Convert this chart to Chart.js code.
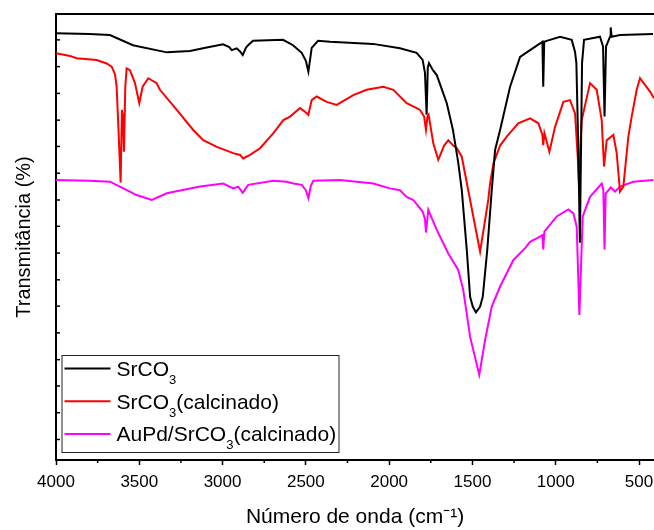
<!DOCTYPE html>
<html>
<head>
<meta charset="utf-8">
<script src="https://cdn.jsdelivr.net/npm/chart.js@4.4.0/dist/chart.umd.min.js"></script>
<style>
  html, body { margin: 0; padding: 0; background: #fff; }
  #wrap { width: 654px; height: 530px; overflow: hidden; }
</style>
</head>
<body>
<div id="wrap"><canvas id="chart" width="654" height="530"></canvas></div>
<script>
// FTIR spectra: [wavenumber (cm-1), transmittance (a.u.)]
const srco3 = [
    [4000,95.7],[3800,95.5],[3676,95.3],[3538,93.0],[3335,91.4],[3196,91.7],[3095,92.5],[2997,93.2],
    [2960,92.6],[2945,91.9],[2915,92.3],[2895,91.6],[2879,90.8],[2860,92.4],[2847,93.0],[2817,94.0],
    [2637,94.2],[2577,93.0],[2525,91.3],[2500,89.5],[2485,87.1],[2472,90.5],[2465,92.4],[2427,94.0],
    [2355,93.8],[2097,93.3],[1935,92.3],[1835,91.3],[1799,89.7],[1785,86.8],[1775,77.4],[1768,88.0],
    [1761,89.0],[1737,87.4],[1714,86.3],[1654,80.0],[1617,74.0],[1585,66.6],[1564,60.5],[1534,47.1],
    [1514,36.6],[1498,34.4],[1479,33.1],[1454,34.4],[1438,36.6],[1411,47.1],[1384,60.5],[1364,69.5],
    [1334,74.0],[1274,83.7],[1214,90.4],[1154,91.9],[1094,93.4],[1080,93.8],[1075,83.7],[1069,93.8],
    [974,94.9],[904,94.2],[884,91.5],[876,89.0],[864,69.0],[855,48.7],[848,70.0],[842,89.0],
    [830,94.2],[734,94.9],[716,92.7],[707,77.0],[698,92.7],[674,94.9],[670,97.0],[664,94.9],
    [614,95.3],[416,95.5]
];
const srco3Calc = [
    [4000,91.2],[3916,90.6],[3876,90.1],[3756,89.7],[3696,88.9],[3666,88.2],[3646,86.5],[3636,83.7],
    [3624,73.3],[3612,62.2],[3604,78.5],[3598,77.0],[3592,69.1],[3584,83.7],[3576,87.8],[3556,87.4],
    [3526,84.5],[3500,80.0],[3480,83.7],[3446,85.6],[3396,84.5],[3376,83.0],[3275,78.5],[3176,74.0],
    [3116,71.7],[3035,70.2],[2936,68.8],[2895,68.4],[2876,67.6],[2835,68.4],[2775,69.9],[2695,73.3],
    [2635,76.2],[2595,77.0],[2535,78.9],[2505,78.1],[2485,77.4],[2465,80.7],[2435,81.5],[2375,80.3],
    [2315,79.6],[2215,81.8],[2135,83.0],[2035,83.7],[1975,83.0],[1895,80.0],[1835,78.9],[1815,78.5],
    [1790,77.0],[1779,74.0],[1770,77.0],[1763,77.4],[1735,71.0],[1705,67.3],[1670,70.5],[1645,71.7],
    [1615,70.5],[1594,69.9],[1564,68.0],[1514,58.3],[1454,46.7],[1405,58.3],[1394,62.0],[1374,66.5],
    [1334,70.5],[1294,72.5],[1225,75.5],[1154,76.6],[1104,75.5],[1080,72.9],[1075,70.6],[1068,73.3],
    [1038,69.1],[1004,74.7],[954,80.3],[914,80.7],[884,77.7],[868,68.0],[860,61.2],[852,70.0],
    [844,76.2],[794,84.5],[754,83.0],[724,76.2],[710,65.8],[694,71.7],[654,72.9],[634,68.8],
    [614,60.2],[594,61.3],[564,72.5],[544,77.0],[514,83.0],[494,85.6],[434,82.6],[410,81.1]
];
const auPdCalc = [
    [4000,62.8],[3800,62.6],[3676,62.4],[3596,60.9],[3516,59.4],[3425,58.3],[3335,59.8],[3135,61.3],
    [2996,62.0],[2936,60.9],[2906,61.3],[2879,59.9],[2846,61.7],[2695,62.6],[2615,62.4],[2575,62.0],
    [2525,61.7],[2500,60.5],[2485,58.7],[2470,61.5],[2455,62.6],[2295,62.8],[2095,62.0],[1995,60.9],
    [1935,60.5],[1895,59.0],[1855,58.3],[1799,55.7],[1785,54.0],[1779,51.0],[1765,56.1],[1714,51.6],
    [1645,46.3],[1585,42.6],[1555,38.1],[1514,27.6],[1459,19.1],[1424,26.9],[1384,34.4],[1334,38.9],
    [1255,44.8],[1184,47.5],[1154,48.9],[1114,49.7],[1080,50.4],[1075,47.2],[1068,51.2],[994,54.6],
    [924,56.2],[894,55.3],[874,52.3],[858,32.5],[838,54.6],[794,59.0],[724,62.0],[714,60.5],
    [707,47.2],[700,59.8],[694,60.0],[670,61.1],[644,60.2],[614,61.3],[534,62.4],[414,62.8]
];

const seriesNames = ['SrCO₃', 'SrCO₃(calcinado)', 'AuPd/SrCO₃(calcinado)'];
const seriesColors = ['#000000', '#ff0000', '#ff00ff'];
const xTicks = [4000, 3500, 3000, 2500, 2000, 1500, 1000, 500];
const xMinorTicks = [3750, 3250, 2750, 2250, 1750, 1250, 750];
const yMinorTicks = [4.6, 10.6, 16.6, 22.5, 28.5, 34.5, 40.4, 46.4, 52.4, 58.3, 64.3, 70.3, 76.2, 82.2, 88.2, 94.2];

const FONT = '"Liberation Sans", Arial, sans-serif';
Chart.defaults.font.family = FONT;
Chart.defaults.color = '#000';

// text with "₃" drawn as a real subscript
function drawSubText(ctx, text, x, y, size) {
    const parts = text.split('₃');
    let cx = x;
    parts.forEach((p, i) => {
        ctx.font = size + 'px ' + FONT;
        ctx.fillText(p, cx, y);
        cx += ctx.measureText(p).width;
        if (i < parts.length - 1) {
            ctx.font = Math.round(size * 0.62) + 'px ' + FONT;
            ctx.fillText('3', cx, y + 8);
            cx += ctx.measureText('3').width;
        }
    });
}

const framePlugin = {
    id: 'frame',
    afterDraw(chart) {
        const { ctx, chartArea: a, scales: { x, y } } = chart;
        ctx.save();
        ctx.strokeStyle = '#000';
        ctx.lineWidth = 2;
        ctx.beginPath();
        ctx.moveTo(a.left - 1, a.top);
        ctx.lineTo(a.right, a.top);
        ctx.stroke();

        ctx.lineWidth = 1.5;
        xMinorTicks.forEach(v => {
            const px = x.getPixelForValue(v);
            ctx.beginPath();
            ctx.moveTo(px, a.bottom);
            ctx.lineTo(px, a.bottom + 3);
            ctx.stroke();
        });
        yMinorTicks.forEach(v => {
            const py = y.getPixelForValue(v);
            ctx.beginPath();
            ctx.moveTo(a.left, py);
            ctx.lineTo(a.left + 4, py);
            ctx.stroke();
        });

        // legend box, bottom-left inside the plot
        const bx = a.left + 5.5, by = a.bottom - 105, bw = 277, bh = 97;
        ctx.fillStyle = '#fff';
        ctx.fillRect(bx, by, bw, bh);
        ctx.strokeStyle = '#222';
        ctx.lineWidth = 1;
        ctx.strokeRect(bx + 0.5, by + 0.5, bw, bh);
        chart.data.datasets.forEach((ds, i) => {
            const ly = by + 13.5 + i * 32.7;
            ctx.strokeStyle = ds.borderColor;
            ctx.lineWidth = 2;
            ctx.beginPath();
            ctx.moveTo(bx + 3, ly);
            ctx.lineTo(bx + 49, ly);
            ctx.stroke();
            ctx.fillStyle = '#000';
            ctx.textBaseline = 'alphabetic';
            drawSubText(ctx, ds.label, bx + 55, ly + 7.5, 21);
        });
        ctx.restore();
    }
};

const ctx = document.getElementById('chart').getContext('2d');
new Chart(ctx, {
    type: 'line',
    data: {
        datasets: [srco3, srco3Calc, auPdCalc].map((s, i) => ({
            label: seriesNames[i],
            data: s.map(([w, t]) => ({ x: w, y: t })),
            borderColor: seriesColors[i],
            backgroundColor: seriesColors[i],
            borderWidth: 2,
            pointRadius: 0,
            tension: 0,
            fill: false
        }))
    },
    options: {
        responsive: false,
        animation: false,
        layout: { padding: { top: 14, right: 0, bottom: 0, left: 0 } },
        plugins: {
            legend: { display: false },
            tooltip: { enabled: false }
        },
        scales: {
            x: {
                type: 'linear',
                reverse: true,
                min: 410,
                max: 4000,
                afterBuildTicks: s => { s.ticks = xTicks.map(v => ({ value: v })); },
                afterFit: s => { s.height = 70; s.paddingLeft = 0; s.paddingRight = 0; },
                ticks: {
                    color: '#000',
                    font: { size: 17 },
                    padding: 7,
                    maxRotation: 0,
                    autoSkip: false,
                    callback: v => String(v)
                },
                grid: { drawOnChartArea: false, tickLength: 5, tickWidth: 1.5, tickColor: '#000' },
                border: { color: '#000', width: 2 },
                title: {
                    display: true,
                    text: 'Número de onda (cm⁻¹)',
                    color: '#000',
                    font: { size: 21 },
                    padding: { top: 0, bottom: 0 }
                }
            },
            y: {
                min: 0,
                max: 100,
                afterFit: s => { s.width = 56; },
                ticks: { display: false },
                grid: { display: false },
                border: { display: true, color: '#000', width: 2 },
                title: {
                    display: true,
                    text: 'Transmitância (%)',
                    color: '#000',
                    font: { size: 20 },
                    padding: { top: 12, bottom: 0 }
                }
            }
        }
    },
    plugins: [framePlugin]
});
</script>
</body>
</html>
